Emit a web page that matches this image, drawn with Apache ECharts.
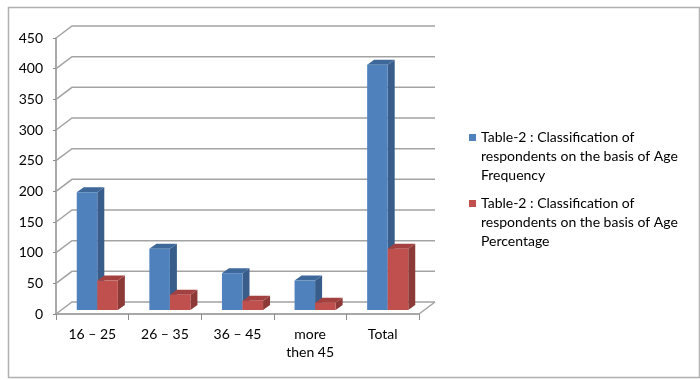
<!DOCTYPE html>
<html><head><meta charset="utf-8">
<script src="https://cdn.jsdelivr.net/npm/echarts@6/dist/echarts.min.js"></script>
<style>html,body{margin:0;padding:0;background:#fff}#c{width:700px;height:380px}</style>
</head><body><div id="c"></div>
<script>
const categories = ['16 – 25', '26 – 35', '36 – 45', 'more\nthen 45', 'Total'];
const frequency = [192, 100, 60, 48, 400];
const percentage = [48, 25, 15, 12, 100];
const yTicks = [0, 50, 100, 150, 200, 250, 300, 350, 400, 450];
const seriesNames = [
  'Table-2 : Classification of respondents on the basis of Age Frequency',
  'Table-2 : Classification of respondents on the basis of Age Percentage'
];
const legendLabels = [
  'Table-2 : Classification of\nrespondents on the basis of Age\nFrequency',
  'Table-2 : Classification of\nrespondents on the basis of Age\nPercentage'
];

const DEPTH_X = 16, DEPTH_Y = -12;
const BAR_SX = 5, BAR_SY = -4;
const BAR_DX = 7, BAR_DY = -5;
const BAR_W = 0.283;
const FONT = 'Lato';

const blueCols = {front: '#4F81BD', top: '#3E6899', side: '#385D8A'};
const redCols = {front: '#C0504D', top: '#A2413F', side: '#8C3A38'};

function barRender(side, colors) {
  return function (params, api) {
    const i = api.value(0), v = api.value(1);
    const top = api.coord([i, v]);
    const base = api.coord([i, 0]);
    const band = api.size([1, 0])[0];
    const w = band * BAR_W;
    const x0 = top[0] + BAR_SX + (side === 0 ? -w : 0);
    const yt = top[1] + BAR_SY, yb = base[1] + BAR_SY;
    return {type: 'group', children: [
      {type: 'polygon', shape: {points: [[x0 + w, yt], [x0 + w + BAR_DX, yt + BAR_DY], [x0 + w + BAR_DX, yb + BAR_DY], [x0 + w, yb]]}, style: {fill: colors.side}},
      {type: 'polygon', shape: {points: [[x0, yt], [x0 + w, yt], [x0 + w + BAR_DX, yt + BAR_DY], [x0 + BAR_DX, yt + BAR_DY]]}, style: {fill: colors.top}},
      {type: 'rect', shape: {x: x0, y: yt, width: w, height: yb - yt}, style: {fill: colors.front}}
    ]};
  };
}

function gridRender(params, api) {
  const v = api.value(1);
  const y = api.coord([0, v])[1];
  const cs = params.coordSys;
  const children = [{
    type: 'polyline',
    shape: {points: [[cs.x, y], [cs.x + DEPTH_X, y + DEPTH_Y], [cs.x + cs.width + DEPTH_X, y + DEPTH_Y]]},
    style: {stroke: '#a3a3a3', lineWidth: 1.5, fill: null}
  }];
  if (v === 0) {
    children.push({type: 'line', shape: {x1: cs.x + cs.width, y1: y, x2: cs.x + cs.width + DEPTH_X, y2: y + DEPTH_Y}, style: {stroke: '#a3a3a3', lineWidth: 1.5}});
  }
  return {type: 'group', children: children};
}

const chart = echarts.init(document.getElementById('c'), null, {renderer: 'canvas'});
chart.setOption({
  animation: false,
  backgroundColor: '#fff',
  textStyle: {fontFamily: FONT},
  graphic: [{type: 'rect', left: 6, top: 5, shape: {width: 691, height: 370}, style: {fill: null, stroke: '#b0b0b0', lineWidth: 1.5}, z: -1}],
  grid: {left: 56, right: 281, top: 38, bottom: 66},
  legend: {
    orient: 'vertical', left: 469, top: 90, padding: 0, itemGap: -29,
    itemWidth: 7, itemHeight: 7, icon: 'rect',
    data: seriesNames,
    formatter: function (name) { return '\n\n' + legendLabels[seriesNames.indexOf(name)]; },
    textStyle: {fontFamily: FONT, fontSize: 14, color: '#000', lineHeight: 19}
  },
  xAxis: {
    type: 'category', data: categories,
    axisLine: {show: true, lineStyle: {color: '#8c8c8c', width: 1.5}},
    axisTick: {show: true, length: 6, lineStyle: {color: '#8c8c8c', width: 1}},
    axisLabel: {fontFamily: FONT, fontSize: 14, color: '#000', lineHeight: 18, margin: 11}
  },
  yAxis: {
    type: 'value', min: 0, max: 450, interval: 50,
    axisLine: {show: true, lineStyle: {color: '#8c8c8c', width: 1.5}},
    axisTick: {show: true, length: 3, lineStyle: {color: '#8c8c8c'}},
    splitLine: {show: false},
    axisLabel: {fontFamily: FONT, fontSize: 14, color: '#000', margin: 13}
  },
  series: [
    {type: 'custom', name: '_grid', silent: true, z: 1, clip: false, encode: {x: 0, y: 1},
     data: yTicks.map(v => [0, v]), renderItem: gridRender},
    {type: 'custom', name: seriesNames[0], z: 2, clip: false, encode: {x: 0, y: 1},
     itemStyle: {color: blueCols.front},
     data: frequency.map((v, i) => [i, v]), renderItem: barRender(0, blueCols)},
    {type: 'custom', name: seriesNames[1], z: 3, clip: false, encode: {x: 0, y: 1},
     itemStyle: {color: redCols.front},
     data: percentage.map((v, i) => [i, v]), renderItem: barRender(1, redCols)}
  ]
});
</script>
</body></html>
